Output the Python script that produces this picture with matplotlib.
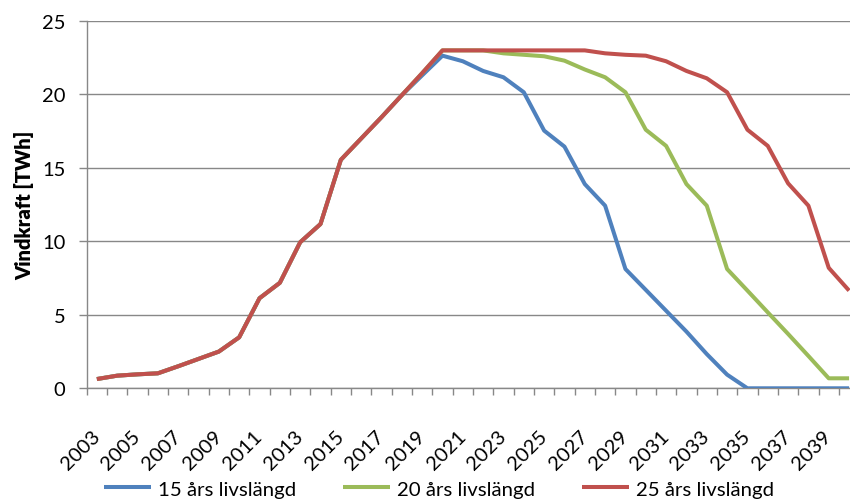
import matplotlib
matplotlib.use("Agg")
import matplotlib.pyplot as plt
import numpy as np

plt.rcParams['font.family'] = ['Lato', 'DejaVu Sans']

years = list(range(2003, 2041))

red_25 = [0.63, 0.86, 0.95, 1.02, 1.5, 2.0, 2.5, 3.47, 6.13, 7.18, 9.94, 11.18,
          15.55, 17.0, 18.45, 19.95, 21.45, 23.0, 23.0, 23.0, 23.0, 23.0, 23.0,
          23.0, 23.0, 22.8, 22.7, 22.64, 22.26, 21.6, 21.1, 20.15, 17.6, 16.5,
          13.95, 12.43, 8.2, 6.65]
blue_15 = [0.63, 0.86, 0.95, 1.02, 1.5, 2.0, 2.5, 3.47, 6.13, 7.18, 9.94, 11.18,
           15.55, 17.0, 18.45, 19.95, 21.3, 22.64, 22.26, 21.6, 21.17, 20.15,
           17.54, 16.45, 13.9, 12.43, 8.12, 6.7, 5.28, 3.86, 2.33, 0.93, 0.0,
           0.0, 0.0, 0.0, 0.0, 0.0]
green_20 = [0.63, 0.86, 0.95, 1.02, 1.5, 2.0, 2.5, 3.47, 6.13, 7.18, 9.94, 11.18,
            15.55, 17.0, 18.45, 19.95, 21.45, 23.0, 23.0, 23.0, 22.8, 22.7,
            22.6, 22.3, 21.7, 21.17, 20.15, 17.6, 16.5, 13.9, 12.43, 8.12,
            6.65, 5.17, 3.7, 2.2, 0.68, 0.68]

series_labels = ["15 års livslängd", "20 års livslängd", "25 års livslängd"]
colors = ["#4F81BD", "#9BBB59", "#C0504D"]
ylabel = "Vindkraft [TWh]"

W, H = 850, 502
fig = plt.figure(figsize=(W / 100, H / 100), dpi=100)
left_px, right_px = 86.7, 850
top_px, bottom_px = 22.0, 389.3
ax = fig.add_axes([left_px / W, 1 - bottom_px / H,
                   (right_px - left_px) / W, (bottom_px - top_px) / H])

x = np.arange(len(years))
lines = []
for vals, lab, c in zip([blue_15, green_20, red_25], series_labels, colors):
    ln, = ax.plot(x, vals, color=c, lw=2.9, label=lab, solid_joinstyle='round',
                  solid_capstyle='butt', zorder=3)
    lines.append(ln)

ax.set_xlim(-0.5, -0.5 + (right_px - left_px) / 20.33)
ax.set_ylim(0, 25)
ax.set_yticks([0, 5, 10, 15, 20, 25])
ax.grid(axis='y', color='#888888', lw=1.0, zorder=1)
ax.set_axisbelow(True)

gray = '#888888'
for s in ['top', 'right']:
    ax.spines[s].set_visible(False)
for s in ['left', 'bottom']:
    ax.spines[s].set_color(gray)
    ax.spines[s].set_linewidth(1.0)

ax.tick_params(axis='y', direction='out', length=5.8, width=1.0, color=gray,
               labelsize=14.5, pad=9.5, labelcolor='#000000')
ax.set_xticks(x[::2])
ax.set_xticklabels([str(y) for y in years[::2]], rotation=45, ha='right',
                   va='center', rotation_mode='anchor')
ax.tick_params(axis='x', which='major', length=0, labelsize=14.5, pad=32)
ax.set_xticks(np.arange(-0.5, len(years) - 0.5, 1), minor=True)
ax.tick_params(axis='x', which='minor', direction='out', length=5, width=1.0,
               color=gray)

ax.set_ylabel(ylabel, fontsize=14.5, fontweight=800)
ax.yaxis.set_label_coords(-0.069, 0.5)

fig.legend(handles=lines, labels=series_labels, loc='center',
           bbox_to_anchor=(0.5165, 0.024), ncol=3, frameon=False,
           fontsize=14.7, handlelength=2.3, handletextpad=0.35,
           columnspacing=2.3)

fig.savefig("out.png", dpi=100)
